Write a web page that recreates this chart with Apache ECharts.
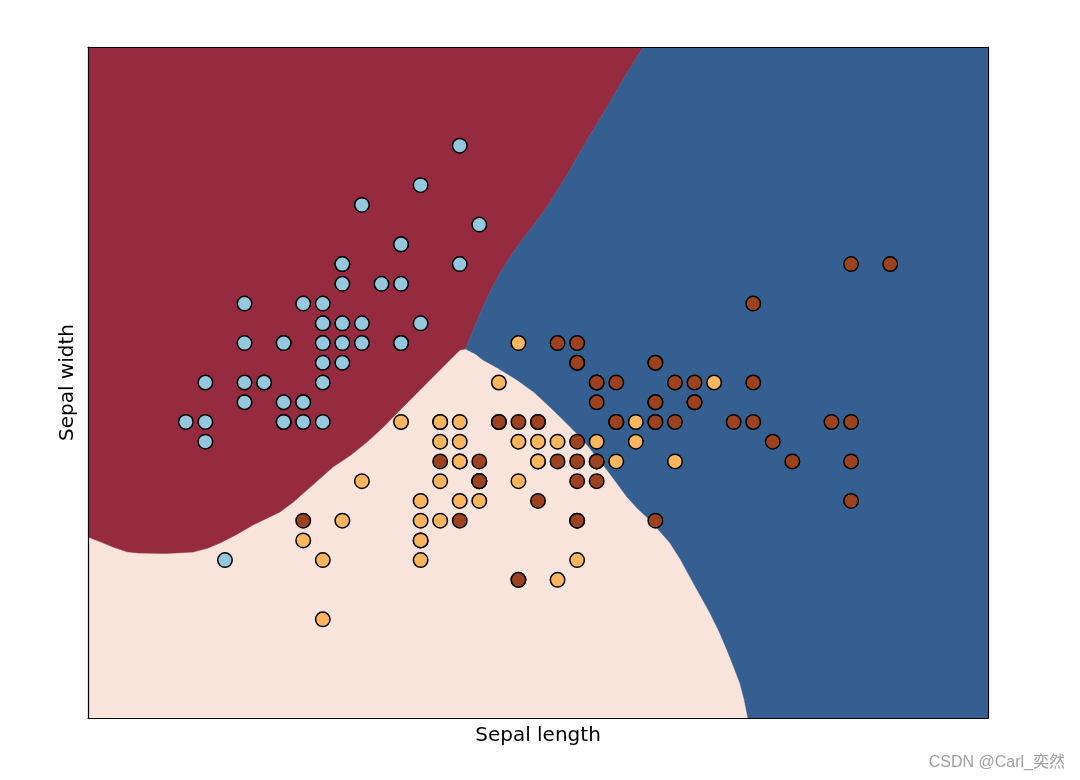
<!DOCTYPE html>
<html>
<head>
<meta charset="utf-8">
<script src="https://cdn.jsdelivr.net/npm/echarts@6/dist/echarts.min.js"></script>
<style>html,body{margin:0;padding:0;background:#fff}#c{width:1080px;height:780px}</style>
</head>
<body>
<div id="c"></div>
<script>
// Iris sepal measurements, by class
const setosaLength = [5.1,4.9,4.7,4.6,5.0,5.4,4.6,5.0,4.4,4.9,5.4,4.8,4.8,4.3,5.8,5.7,5.4,5.1,5.7,5.1,5.4,5.1,4.6,5.1,4.8,5.0,5.0,5.2,5.2,4.7,4.8,5.4,5.2,5.5,4.9,5.0,5.5,4.9,4.4,5.1,5.0,4.5,4.4,5.0,5.1,4.8,5.1,4.6,5.3,5.0];
const setosaWidth  = [3.5,3.0,3.2,3.1,3.6,3.9,3.4,3.4,2.9,3.1,3.7,3.4,3.0,3.0,4.0,4.4,3.9,3.5,3.8,3.8,3.4,3.7,3.6,3.3,3.4,3.0,3.4,3.5,3.4,3.2,3.1,3.4,4.1,4.2,3.1,3.2,3.5,3.6,3.0,3.4,3.5,2.3,3.2,3.5,3.8,3.0,3.8,3.2,3.7,3.3];
const versicolorLength = [7.0,6.4,6.9,5.5,6.5,5.7,6.3,4.9,6.6,5.2,5.0,5.9,6.0,6.1,5.6,6.7,5.6,5.8,6.2,5.6,5.9,6.1,6.3,6.1,6.4,6.6,6.8,6.7,6.0,5.7,5.5,5.5,5.8,6.0,5.4,6.0,6.7,6.3,5.6,5.5,5.5,6.1,5.8,5.0,5.6,5.7,5.7,6.2,5.1,5.7];
const versicolorWidth  = [3.2,3.2,3.1,2.3,2.8,2.8,3.3,2.4,2.9,2.7,2.0,3.0,2.2,2.9,2.9,3.1,3.0,2.7,2.2,2.5,3.2,2.8,2.5,2.8,2.9,3.0,2.8,3.0,2.9,2.6,2.4,2.4,2.7,2.7,3.0,3.4,3.1,2.3,3.0,2.5,2.6,3.0,2.6,2.3,2.7,3.0,2.9,2.9,2.5,2.8];
const virginicaLength = [6.3,5.8,7.1,6.3,6.5,7.6,4.9,7.3,6.7,7.2,6.5,6.4,6.8,5.7,5.8,6.4,6.5,7.7,7.7,6.0,6.9,5.6,7.7,6.3,6.7,7.2,6.2,6.1,6.4,7.2,7.4,7.9,6.4,6.3,6.1,7.7,6.3,6.4,6.0,6.9,6.7,6.9,5.8,6.8,6.7,6.7,6.3,6.5,6.2,5.9];
const virginicaWidth  = [3.3,2.7,3.0,2.9,3.0,3.0,2.5,2.9,2.5,3.6,3.2,2.7,3.0,2.5,2.8,3.2,3.0,3.8,2.6,2.2,3.2,2.8,2.8,2.7,3.3,3.2,2.8,3.0,2.8,3.0,2.8,3.8,2.8,2.8,2.6,3.0,3.4,3.1,3.0,3.1,3.1,3.1,2.7,3.2,3.3,3.0,2.5,3.0,3.4,3.0];

// Axis ranges
const xRange = [3.8, 8.4];
const yRange = [1.5, 4.9];

// Decision boundaries (sepal length, sepal width)
const boundarySetosaVersicolor = [[3.8,2.417],[3.87,2.39],[3.928,2.366],[4.0,2.342],[4.056,2.336],[4.2,2.334],[4.337,2.341],[4.41,2.36],[4.475,2.387],[4.56,2.43],[4.643,2.478],[4.781,2.544],[4.85,2.595],[4.919,2.655],[5.052,2.772],[5.14,2.83],[5.226,2.898],[5.31,2.975],[5.395,3.061],[5.48,3.145],[5.563,3.228],[5.63,3.295],[5.701,3.365]];
const triplePoint = [5.73, 3.37];
const boundarySetosaVirginica = [[5.77,3.47],[5.819,3.583],[5.86,3.67],[5.906,3.755],[5.96,3.84],[6.018,3.922],[6.08,4.0],[6.146,4.089],[6.2,4.175],[6.253,4.262],[6.351,4.429],[6.453,4.596],[6.555,4.768],[6.637,4.9]];
const boundaryVersicolorVirginica = [[5.78,3.345],[5.819,3.314],[5.9,3.27],[5.993,3.213],[6.08,3.15],[6.161,3.076],[6.25,2.99],[6.330,2.909],[6.39,2.835],[6.453,2.757],[6.555,2.620],[6.61,2.56],[6.672,2.503],[6.775,2.387],[6.83,2.30],[6.877,2.214],[6.93,2.12],[6.979,2.032],[7.025,1.94],[7.066,1.845],[7.10,1.76],[7.132,1.677],[7.155,1.59],[7.173,1.5]];

const zip = (a, b) => a.map((v, i) => [v, b[i]]);

const redPoly = [[xRange[0], yRange[1]]]
  .concat(boundarySetosaVirginica.slice().reverse())
  .concat([triplePoint])
  .concat(boundarySetosaVersicolor.slice().reverse());
const bluePoly = [[xRange[1], yRange[1]], [xRange[1], yRange[0]]]
  .concat(boundaryVersicolorVirginica.slice().reverse())
  .concat([triplePoint])
  .concat(boundarySetosaVirginica);

function regionSeries(poly, color) {
  return {
    type: 'custom', silent: true, z: 1, clip: true,
    data: [0],
    renderItem: (params, api) => ({
      type: 'polygon',
      shape: { points: poly.map(p => api.coord(p)) },
      style: { fill: color, stroke: color, lineWidth: 0.5 }
    })
  };
}

function scatterSeries(data, color) {
  return {
    type: 'scatter', z: 3, data: data, symbol: 'circle', symbolSize: 14.5,
    itemStyle: { color: color, borderColor: '#000', borderWidth: 1.5, opacity: 1 }
  };
}

const hiddenAxisParts = {
  axisTick: { show: false }, axisLabel: { show: false }, splitLine: { show: false },
  axisLine: { show: true, onZero: false, lineStyle: { color: '#000', width: 1.2 } }
};

const chart = echarts.init(document.getElementById('c'), null, { renderer: 'canvas' });
chart.setOption({
  animation: false,
  backgroundColor: '#ffffff',
  grid: { left: 88, right: 92, top: 47, bottom: 62, show: true, backgroundColor: '#F8E4DA', borderWidth: 0 },
  xAxis: [
    Object.assign({ type: 'value', min: xRange[0], max: xRange[1], position: 'bottom', z: 10,
      name: 'Sepal length', nameLocation: 'middle', nameGap: 8,
      nameTextStyle: { fontFamily: 'DejaVu Sans', fontSize: 20, color: '#000', verticalAlign: 'top' } }, hiddenAxisParts),
    Object.assign({ type: 'value', min: xRange[0], max: xRange[1], position: 'top', z: 10 }, hiddenAxisParts)
  ],
  yAxis: [
    Object.assign({ type: 'value', min: yRange[0], max: yRange[1], position: 'left', z: 10,
      name: 'Sepal width', nameLocation: 'middle', nameGap: 10, nameRotate: 90,
      nameTextStyle: { fontFamily: 'DejaVu Sans', fontSize: 20, color: '#000' } }, hiddenAxisParts),
    Object.assign({ type: 'value', min: yRange[0], max: yRange[1], position: 'right', z: 10 }, hiddenAxisParts)
  ],
  graphic: [{
    type: 'text', right: 15, bottom: 9,
    style: { text: 'CSDN @Carl_奕然', fontFamily: '"Liberation Sans", "Noto Sans CJK SC"', fontSize: 16, fill: '#a0a0a0' }
  }],
  series: [
    regionSeries(redPoly, '#962B40'),
    regionSeries(bluePoly, '#365F91'),
    scatterSeries(zip(setosaLength, setosaWidth), '#95C8DF'),
    scatterSeries(zip(versicolorLength, versicolorWidth), '#FBB55E'),
    scatterSeries(zip(virginicaLength, virginicaWidth), '#9C4220')
  ]
});
</script>
</body>
</html>
